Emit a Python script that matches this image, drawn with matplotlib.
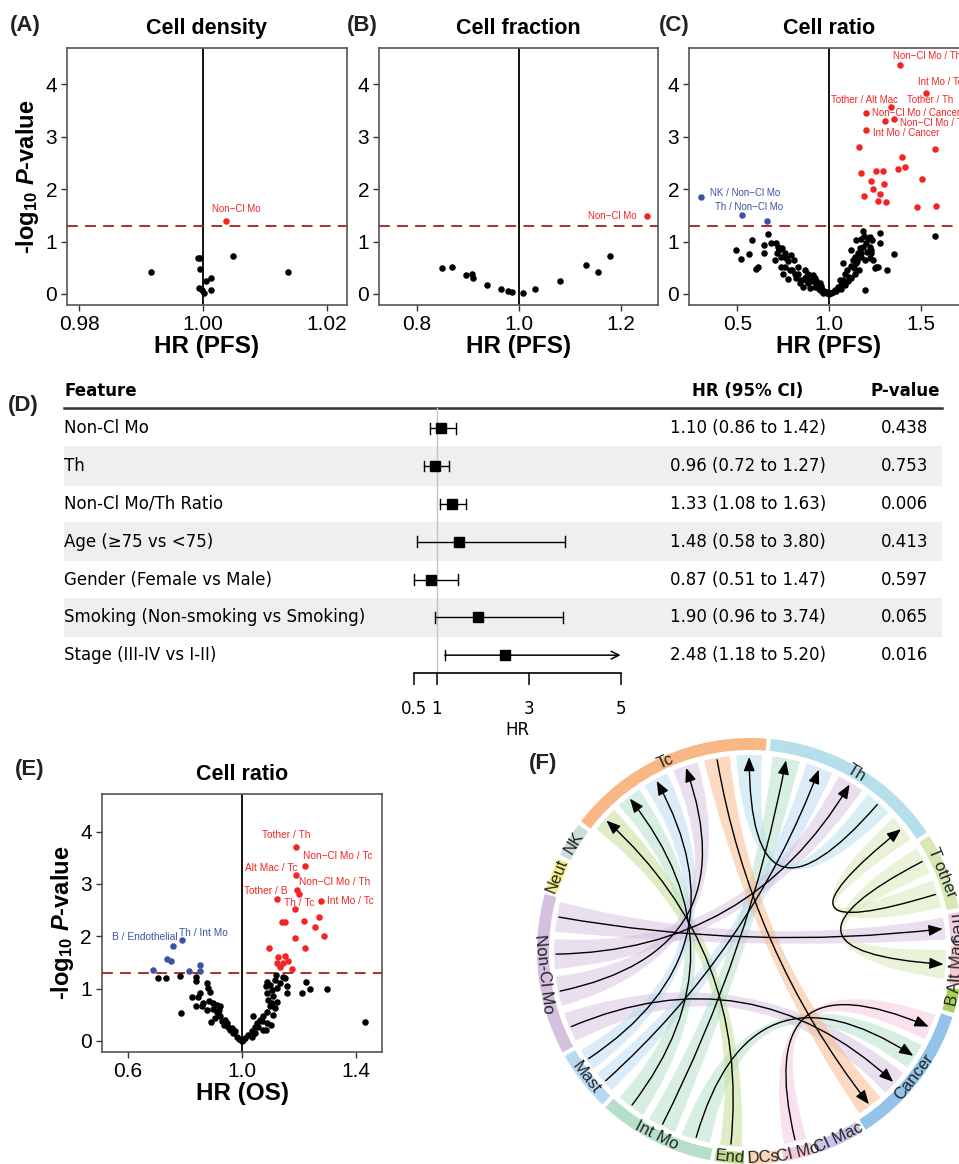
import numpy as np
import matplotlib
matplotlib.use('Agg')
import matplotlib.pyplot as plt
from matplotlib.path import Path
from matplotlib.patches import PathPatch, Wedge, FancyArrowPatch

W, H = 959, 1164
plt.rcParams['font.family'] = ['Liberation Sans', 'DejaVu Sans']
plt.rcParams['mathtext.fontset'] = 'custom'
plt.rcParams['mathtext.rm'] = 'Liberation Sans'
plt.rcParams['mathtext.it'] = 'Liberation Sans:italic'
plt.rcParams['mathtext.bf'] = 'Liberation Sans:bold'
plt.rcParams['mathtext.bfit'] = 'Liberation Sans:bold:italic'

RED = '#f42424'
BLUE = '#3b53a3'

# ---------------- data: volcano panels (HR, -log10 p) ----------------
a_ns = [(0.9915, 0.41), (0.9992, 0.69), (0.9995, 0.68), (0.9995, 0.47), (1.0004, 0.24),
        (1.0012, 0.30), (0.9993, 0.11), (0.9998, 0.08), (1.0001, 0.01), (1.0013, 0.08),
        (1.0048, 0.73), (1.0137, 0.41)]
a_up = [(1.0036, 1.39)]
a_labels = [('Non−Cl Mo', 1.0054, 1.62, 'center')]

b_ns = [(0.849, 0.50), (0.870, 0.52), (0.897, 0.36), (0.908, 0.38), (0.911, 0.30),
        (0.937, 0.17), (0.965, 0.09), (0.978, 0.06), (0.986, 0.03), (1.009, 0.01),
        (1.031, 0.10), (1.081, 0.25), (1.132, 0.55), (1.155, 0.41), (1.178, 0.73)]
b_up = [(1.251, 1.49)]
b_labels = [('Non−Cl Mo ', 1.2366, 1.49, 'right')]

c_ns = [(0.490, 0.83), (0.517, 0.67), (0.563, 0.77), (0.579, 1.03), (0.612, 0.52), (0.603, 0.48),
        (0.645, 0.94), (0.647, 0.78), (0.667, 1.14), (0.685, 0.97), (0.712, 0.98), (0.721, 0.90),
        (0.707, 0.64), (0.725, 0.83), (0.743, 0.87), (0.758, 0.78), (0.767, 0.68), (0.736, 0.52),
        (0.776, 0.28), (0.749, 0.39), (0.776, 0.62), (0.794, 0.74), (0.809, 0.65), (0.812, 0.39),
        (0.831, 0.52), (0.849, 0.27), (0.798, 0.46), (0.831, 0.39), (0.867, 0.46), (0.876, 0.33),
        (0.885, 0.20), (0.903, 0.27), (0.922, 0.14), (0.940, 0.17), (0.958, 0.11), (0.976, 0.04),
        (0.913, 0.36), (0.858, 0.14), (0.894, 0.11), (0.931, 0.24), (0.949, 0.08), (0.967, 0.01),
        (0.985, 0.03), (0.758, 0.52), (0.785, 0.46), (0.740, 0.71), (0.718, 0.78), (0.876, 0.27),
        (0.840, 0.20), (0.822, 0.30), (0.885, 0.39), (0.922, 0.30), (0.954, 0.15), (0.970, 0.05),
        (0.990, 0.02), (1.000, 0.00), (0.995, 0.03), (0.960, 0.08), (0.940, 0.12), (0.930, 0.20),
        (0.900, 0.25), (0.870, 0.30), (0.950, 0.20), (0.910, 0.32),
        (1.013, 0.01), (1.031, 0.08), (1.049, 0.13), (1.067, 0.17), (1.076, 0.60), (1.086, 0.39),
        (1.100, 0.46), (1.107, 0.33), (1.122, 0.84), (1.122, 0.53), (1.131, 0.65), (1.140, 0.71),
        (1.149, 1.03), (1.158, 0.78), (1.168, 0.87), (1.149, 0.59), (1.177, 1.04), (1.186, 1.21),
        (1.191, 1.11), (1.195, 0.08), (1.204, 0.97), (1.213, 1.06), (1.222, 0.90), (1.228, 0.84),
        (1.235, 1.03), (1.228, 0.78), (1.222, 1.09), (1.240, 0.65), (1.250, 0.49), (1.259, 0.52),
        (1.268, 0.51), (1.277, 1.16), (1.277, 0.97), (1.319, 0.45), (1.355, 0.76), (1.577, 1.11),
        (1.177, 0.71), (1.195, 0.65), (1.162, 0.46), (1.140, 0.39), (1.122, 0.30), (1.104, 0.24),
        (1.086, 0.17), (1.067, 0.09), (1.058, 0.27), (1.076, 0.27), (1.137, 0.49), (1.155, 0.62),
        (1.173, 0.78), (1.186, 0.90), (1.209, 0.81), (1.222, 0.68), (1.005, 0.01), (1.020, 0.03),
        (1.040, 0.06)]
c_up = [(1.388, 4.36), (1.528, 3.84), (1.339, 3.56), (1.201, 3.46), (1.308, 3.29), (1.355, 3.33),
        (1.204, 3.12), (1.164, 2.80), (1.581, 2.77), (1.399, 2.61), (1.379, 2.39), (1.415, 2.42),
        (1.177, 2.30), (1.257, 2.35), (1.293, 2.34), (1.228, 2.16), (1.301, 2.10), (1.239, 2.00),
        (1.281, 1.91), (1.189, 1.87), (1.270, 1.77), (1.313, 1.76), (1.506, 2.20), (1.483, 1.65),
        (1.587, 1.68)]
c_dn = [(0.302, 1.84), (0.525, 1.50), (0.663, 1.39)]
c_labels = [('Non−Cl Mo / Th', 1.348, 4.54, 'left'), ('Int Mo / Tc', 1.486, 4.04, 'left'),
            ('Tother / Alt Mac', 1.013, 3.69, 'left'), ('Tother / Th', 1.428, 3.69, 'left'),
            ('Non−Cl Mo / Cancer', 1.237, 3.45, 'left'), ('Non−Cl Mo / Treg', 1.386, 3.26, 'left'),
            ('Int Mo / Cancer', 1.240, 3.07, 'left'),
            ('NK / Non−Cl Mo', 0.348, 1.92, 'left'), ('Th / Non−Cl Mo', 0.379, 1.65, 'left')]

e_ns = [(0.704, 1.21), (0.732, 1.21), (0.783, 1.23), (0.838, 1.22), (0.840, 1.15), (0.876, 1.10),
        (0.888, 0.93), (0.823, 0.84), (0.847, 0.84), (0.885, 0.76), (0.838, 0.66), (0.858, 0.66),
        (0.899, 0.72), (0.911, 0.69), (0.899, 0.61), (0.920, 0.58), (0.923, 0.47), (0.891, 0.36),
        (0.784, 0.54), (0.940, 0.40), (0.929, 0.37), (0.952, 0.27), (0.958, 0.21), (0.970, 0.15),
        (0.981, 0.08), (0.991, 0.03), (0.946, 0.34), (0.964, 0.24), (0.975, 0.18), (0.937, 0.31),
        (0.917, 0.53), (0.905, 0.43), (0.876, 0.59), (0.864, 0.72), (0.852, 0.91), (0.881, 1.01),
        (0.923, 0.66), (0.911, 0.56),
        (1.011, 0.05), (1.022, 0.11), (1.034, 0.18), (1.046, 0.27), (1.052, 0.34), (1.063, 0.40),
        (1.075, 0.47), (1.087, 0.56), (1.083, 0.20), (1.101, 0.31), (1.098, 0.66), (1.093, 0.78),
        (1.087, 0.91), (1.084, 1.04), (1.087, 1.13), (1.098, 1.07), (1.104, 0.98), (1.110, 0.85),
        (1.116, 1.17), (1.118, 1.26), (1.122, 1.01), (1.134, 1.10), (1.145, 1.22), (1.151, 1.20),
        (1.157, 1.04), (1.157, 0.91), (1.124, 0.75), (1.116, 0.62), (1.110, 0.50), (1.210, 0.91),
        (1.225, 1.12), (1.239, 0.99), (1.300, 0.99), (1.432, 0.35), (1.040, 0.47), (1.057, 0.27),
        (1.069, 0.37), (1.075, 0.21), (1.046, 0.15), (1.034, 0.08), (1.087, 0.34), (1.104, 0.72),
        (1.000, 0.00), (1.005, 0.02), (0.995, 0.02)]
e_up = [(1.189, 3.71), (1.220, 3.35), (1.190, 3.17), (1.194, 2.89), (1.200, 2.81), (1.122, 2.71),
        (1.279, 2.68), (1.187, 2.52), (1.141, 2.28), (1.152, 2.28), (1.218, 2.30), (1.269, 2.37),
        (1.257, 2.17), (1.287, 2.01), (1.187, 1.97), (1.221, 1.77), (1.095, 1.77), (1.128, 1.61),
        (1.152, 1.63), (1.124, 1.49), (1.143, 1.49), (1.163, 1.52), (1.135, 1.42), (1.176, 1.38)]
e_dn = [(0.788, 1.92), (0.759, 1.82), (0.735, 1.57), (0.749, 1.53), (0.686, 1.36), (0.813, 1.34),
        (0.852, 1.45), (0.854, 1.34)]
e_labels = [('Tother / Th', 1.155, 3.93, 'center'), ('Non−Cl Mo / Tc', 1.337, 3.54, 'center'),
            ('Alt Mac / Tc', 1.102, 3.31, 'center'), ('Non−Cl Mo / Th', 1.327, 3.03, 'center'),
            ('Tother / B', 1.084, 2.86, 'center'), ('Th / Tc', 1.202, 2.64, 'center'),
            ('Int Mo / Tc', 1.380, 2.68, 'center'), ('B / Endothelial', 0.659, 1.99, 'center'),
            ('Th / Int Mo', 0.866, 2.07, 'center')]

# ---------------- data: forest plot ----------------
features = ['Non-Cl Mo', 'Th', 'Non-Cl Mo/Th Ratio', 'Age (≥75 vs <75)', 'Gender (Female vs Male)',
            'Smoking (Non-smoking vs Smoking)', 'Stage (III-IV vs I-II)']
hr_est = [1.10, 0.96, 1.33, 1.48, 0.87, 1.90, 2.48]
hr_lo = [0.86, 0.72, 1.08, 0.58, 0.51, 0.96, 1.18]
hr_hi = [1.42, 1.27, 1.63, 3.80, 1.47, 3.74, 5.20]
pvals = ['0.438', '0.753', '0.006', '0.413', '0.597', '0.065', '0.016']

# ---------------- data: chord diagram ----------------
sectors = ['Tc', 'Th', 'T other', 'Treg', 'Alt Mac', 'B', 'Cancer', 'Cl Mac', 'Cl Mo', 'DCs',
           'End', 'Int Mo', 'Mast', 'Non-Cl Mo', 'Neut', 'NK']
sector_size = [57, 50.5, 21, 8, 10.7, 6.5, 39, 13, 8.5, 8.5, 8, 32, 16.5, 44, 9, 9.5]
sector_color = ['#f8b784', '#b5dfea', '#d6e8b4', '#efd0e4', '#f7c9d3', '#a9d15a', '#93c3e8',
                '#cbc3ea', '#f4c7dd', '#fbd6b8', '#bedc8e', '#b5dfc8', '#b8d9f2', '#d5c0e0',
                '#f5f08c', '#cfdcdc']
links = [('Cl Mo', 'Cancer'), ('Int Mo', 'Cancer'), ('Non-Cl Mo', 'Cancer'), ('End', 'Tc'),
         ('Int Mo', 'Th'), ('Mast', 'Th'), ('Int Mo', 'Tc'), ('Mast', 'Tc'), ('Non-Cl Mo', 'Tc'),
         ('Non-Cl Mo', 'Th'), ('Non-Cl Mo', 'Treg'), ('Tc', 'Cancer'), ('Th', 'Tc'),
         ('T other', 'Alt Mac'), ('T other', 'Th')]


fig = plt.figure(figsize=(W / 100, H / 100), dpi=100)
fig.patch.set_facecolor('white')


def px_axes(x0, y0, x1, y1):
    return fig.add_axes([x0 / W, 1 - y1 / H, (x1 - x0) / W, (y1 - y0) / H])


def volcano(ax, ns, up, dn, labels, xlim, xticks, xticklabels, title, ylim, lab_size):
    ax.axvline(1.0, color='black', lw=1.3, zorder=1)
    ax.axhline(-np.log10(0.05), color='#a32020', lw=1.3, ls=(0, (6, 4)), zorder=1)
    for pts, col in [(ns, 'black'), (up, RED), (dn, BLUE)]:
        if pts:
            x, y = zip(*pts)
            ax.scatter(x, y, s=22, c=col, lw=0, zorder=3)
    for txt, x, y, ha in labels:
        col = RED if x > 1 else BLUE
        ax.text(x, y, txt, color=col, fontsize=lab_size, ha=ha, va='center', zorder=4)
    ax.set_xlim(xlim)
    ax.set_ylim(ylim)
    ax.set_xticks(xticks)
    ax.set_xticklabels(xticklabels)
    ax.set_yticks([0, 1, 2, 3, 4])
    ax.tick_params(labelsize=15, length=4, width=1, color='#333333', pad=3)
    for s in ax.spines.values():
        s.set_color('#555555')
        s.set_linewidth(1.2)
    ax.set_title(title, fontsize=15.5, fontweight='bold', pad=10)


ylab = r'-log$_{\mathbf{10}}$ $\mathbfit{P}$-value'

axA = px_axes(67, 48, 347, 305)
volcano(axA, a_ns, a_up, [], a_labels, (0.978, 1.0232), [0.98, 1.00, 1.02],
        ['0.98', '1.00', '1.02'], 'Cell density', (-0.21, 4.69), 7)
axA.set_ylabel(ylab, fontsize=17, fontweight='bold', labelpad=3)
axA.set_xlabel('HR (PFS)', fontsize=17.5, fontweight='bold', labelpad=1)

axB = px_axes(379, 48, 658, 305)
volcano(axB, b_ns, b_up, [], b_labels, (0.726, 1.273), [0.8, 1.0, 1.2],
        ['0.8', '1.0', '1.2'], 'Cell fraction', (-0.21, 4.69), 7)
axB.set_xlabel('HR (PFS)', fontsize=17.5, fontweight='bold', labelpad=1)

axC = px_axes(689, 48, 969, 305)
volcano(axC, c_ns, c_up, c_dn, c_labels, (0.235, 1.765), [0.5, 1.0, 1.5],
        ['0.5', '1.0', '1.5'], 'Cell ratio', (-0.21, 4.69), 7)
axC.set_xlabel('HR (PFS)', fontsize=17.5, fontweight='bold', labelpad=1)

axE = px_axes(101.7, 794, 382.3, 1052.3)
volcano(axE, e_ns, e_up, e_dn, e_labels, (0.507, 1.493), [0.6, 1.0, 1.4],
        ['0.6', '1.0', '1.4'], 'Cell ratio', (-0.22, 4.72), 7.3)
axE.set_ylabel(ylab, fontsize=17, fontweight='bold', labelpad=3)
axE.set_xlabel('HR (OS)', fontsize=17.5, fontweight='bold', labelpad=1)

for lab, x, y in [('(A)', 10, 25), ('(B)', 347, 25), ('(C)', 659, 25), ('(E)', 15, 770), ('(F)', 529, 763)]:
    fig.text(x / W, 1 - y / H, lab, fontsize=16, fontweight='bold', color='#222222', va='center')

# ---------------- panel D: forest table ----------------
TF = 'DejaVu Sans'
tax = px_axes(0, 375, W, 740)
tax.set_xlim(0, W)
tax.set_ylim(8.24, -1.41)
tax.axis('off')
for i in range(len(features)):
    if i % 2 == 1:
        tax.fill_between([64, 942], i - 0.52, i + 0.52, color='#eef0ef', lw=0)
tax.plot([64, 942], [-0.53, -0.53], color='#333333', lw=1.8)
tax.text(64, -1.0, 'Feature', fontsize=12, fontweight='bold', va='center', family=TF)
tax.text(748, -1.0, 'HR (95% CI)', fontsize=12, fontweight='bold', va='center', ha='center', family=TF)
tax.text(905, -1.0, 'P-value', fontsize=12, fontweight='bold', va='center', ha='center', family=TF)
for i, (f, e, lo, hi, p) in enumerate(zip(features, hr_est, hr_lo, hr_hi, pvals)):
    tax.text(64, i, f, fontsize=12, va='center', family=TF)
    tax.text(748, i, f'{e:.2f} ({lo:.2f} to {hi:.2f})', fontsize=12, va='center', ha='center', family=TF)
    tax.text(905, i, p, fontsize=12, va='center', ha='center', family=TF)
fig.text(8 / W, 1 - 406 / H, '(D)', fontsize=16, fontweight='bold', color='#222222', va='center')

fax = px_axes(413.6, 408.3, 620.6, 673.3)
fax.patch.set_visible(False)
fax.set_xlim(0.5, 5)
fax.set_ylim(6.48, -0.53)
fax.axvline(1, color='#c4c4c4', lw=1, zorder=0)
for i, (e, lo, hi) in enumerate(zip(hr_est, hr_lo, hr_hi)):
    right = min(hi, 5)
    if hi > 5:
        fax.annotate('', xy=(right, i), xytext=(lo, i),
                     arrowprops=dict(arrowstyle='->', color='black', lw=1.1,
                                     shrinkA=0, shrinkB=0, mutation_scale=14),
                     annotation_clip=False)
    else:
        fax.plot([lo, right], [i, i], color='black', lw=1.0, clip_on=False)
        fax.plot([right, right], [i - 0.14, i + 0.14], color='black', lw=1.0, clip_on=False)
    fax.plot([lo, lo], [i - 0.14, i + 0.14], color='black', lw=1.0, clip_on=False)
    fax.plot([e], [i], 's', color='black', ms=7, clip_on=False)
for s in ['top', 'right', 'left']:
    fax.spines[s].set_visible(False)
fax.spines['bottom'].set_linewidth(1.2)
fax.set_yticks([])
fax.set_xticks([0.5, 1, 3, 5])
fax.set_xticklabels(['0.5', '1', '3', '5'], family=TF)
fax.tick_params(axis='x', labelsize=12, length=8.5, width=1.1, pad=11)
fax.set_xlabel('HR', fontsize=12, labelpad=2, family=TF)

# ---------------- panel F: chord diagram ----------------
cax = px_axes(520, 721, 980, 1181)
cax.set_xlim(-230, 230)
cax.set_ylim(-230, 230)
cax.axis('off')

R_OUT, R_IN, R_LINK = 213, 201, 196
gap = (360 - sum(sector_size)) / len(sectors)
span = {}
cur = 142.5
for name, size in zip(sectors, sector_size):
    span[name] = (cur - size, cur)
    cur -= size + gap
color = dict(zip(sectors, sector_color))

for name in sectors:
    a0, a1 = span[name]
    cax.add_patch(Wedge((0, 0), R_OUT, a0, a1, width=R_OUT - R_IN, color=color[name], lw=0))
    m = ((a0 + a1) / 2 + 180) % 360 - 180
    rot = m - 90 if m > 0 else m + 90
    t = np.deg2rad(m)
    cax.text(207 * np.cos(t), 207 * np.sin(t), name, rotation=rot, rotation_mode='anchor',
             ha='center', va='center', fontsize=12, color='#222222')

# slot allocation per sector, clockwise from its upper edge, in link order
count = {n: 0 for n in sectors}
for s, t in links:
    count[s] += 1
    count[t] += 1
used = {n: 0 for n in sectors}
ends = []
for s, t in links:
    pair = []
    for n in (s, t):
        a0, a1 = span[n]
        w = (a1 - a0) / count[n]
        pair.append((a1 - (used[n] + 0.5) * w, 0.4 * w))
        used[n] += 1
    ends.append(pair)


def pt(a, r):
    t = np.deg2rad(a)
    return (r * np.cos(t), r * np.sin(t))


for (s, t), ((sa, hs), (ta, ht)) in zip(links, ends):
    arc1 = [pt(a, R_LINK) for a in np.linspace(sa - hs, sa + hs, 12)]
    arc2 = [pt(a, R_LINK) for a in np.linspace(ta - ht, ta + ht, 12)]
    verts = arc1 + [(0, 0), arc2[0]] + arc2[1:] + [(0, 0), arc1[0], arc1[0]]
    codes = ([Path.MOVETO] + [Path.LINETO] * 11 + [Path.CURVE3] * 2 + [Path.LINETO] * 11 +
             [Path.CURVE3] * 2 + [Path.CLOSEPOLY])
    cax.add_patch(PathPatch(Path(verts, codes), facecolor=color[s], alpha=0.5, lw=0, zorder=1))

for (s, t), ((sa, hs), (ta, ht)) in zip(links, ends):
    p = Path([pt(sa, 194), (0, 0), pt(ta, 194)], [Path.MOVETO, Path.CURVE3, Path.CURVE3])
    cax.add_patch(FancyArrowPatch(path=p, arrowstyle='-|>,head_length=0.7,head_width=0.28',
                                  mutation_scale=12, lw=1.0, color='black', zorder=3,
                                  shrinkA=0, shrinkB=0))

fig.savefig('out.png', dpi=100)
